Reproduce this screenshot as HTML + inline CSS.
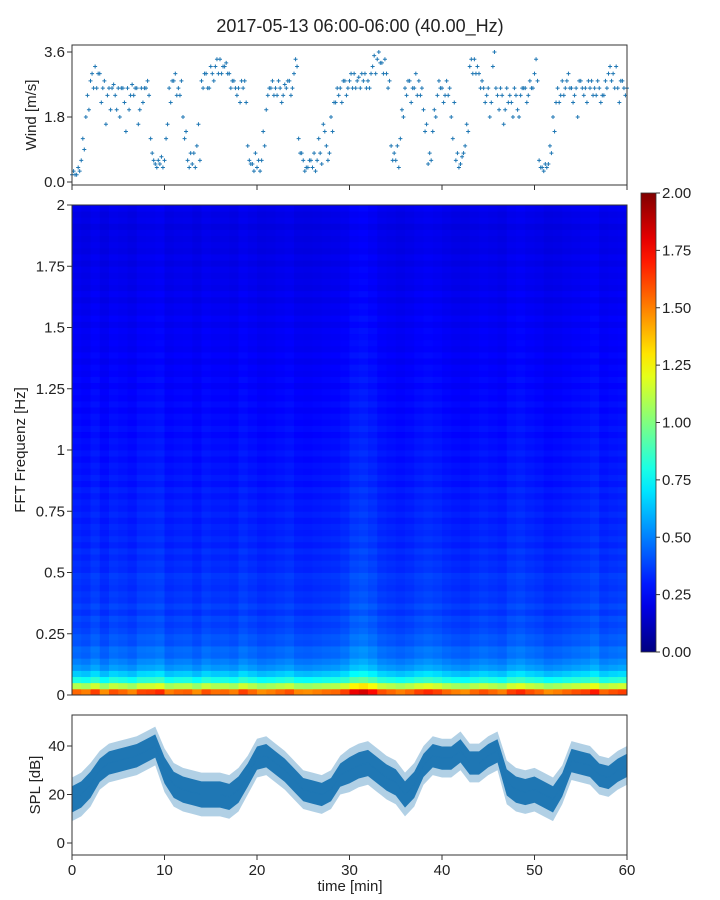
<!DOCTYPE html>
<html><head><meta charset="utf-8">
<style>
body{margin:0;background:#fff;}
svg{display:block;font-family:"Liberation Sans","DejaVu Sans",sans-serif;}
</style></head>
<body>
<svg id="chart" width="720" height="900" viewBox="0 0 720 900" xmlns="http://www.w3.org/2000/svg">
<text x="360" y="32" font-size="18" text-anchor="middle" fill="#222">2017-05-13 06:00-06:00 (40.00_Hz)</text>
<g id="wind"></g>
<g id="heat"></g>
<g id="cbar"></g>
<g id="spl"></g>
</svg>
<script>
// ---- data ----
const windTimes = Array.from({length:121},(_,i)=>i*0.5);
const windA = [0.2,0.2,0.6,1.8,2.8,3.2,3.0,2.8,2.6,2.7,2.6,2.6,2.6,2.7,2.6,2.6,2.6,1.2,0.5,0.5,0.6,2.6,2.8,2.6,1.8,0.6,0.5,1.0,2.8,3.0,3.2,3.2,3.4,3.2,3.0,2.8,2.6,2.6,1.0,0.5,0.4,0.6,2.0,2.6,2.6,2.6,2.7,2.8,3.0,1.2,0.6,0.4,0.4,0.6,0.5,1.0,1.8,2.2,2.6,2.8,2.8,3.0,2.9,2.8,2.8,3.2,3.4,3.3,3.0,1.0,0.6,1.2,2.6,2.8,2.6,2.8,2.0,0.5,1.4,2.4,2.6,2.8,1.8,0.6,0.5,1.0,3.2,3.4,3.0,2.6,2.6,3.2,2.4,2.4,2.6,2.2,2.4,2.4,2.6,2.8,3.0,0.6,0.3,0.5,1.8,2.6,2.8,2.8,2.6,2.6,2.8,2.6,2.6,2.6,2.6,2.4,3.0,3.0,2.6,2.8,2.6];
const windB = [0.3,0.4,1.2,2.4,3.0,2.6,2.2,1.6,2.0,2.4,1.8,2.2,2.0,2.4,1.6,2.2,2.8,0.8,0.4,0.7,1.2,2.2,3.0,2.4,1.2,0.4,0.8,1.6,2.6,2.6,3.0,3.4,3.0,3.3,2.6,2.6,2.2,2.8,0.6,0.3,0.6,1.4,2.4,2.8,2.4,2.2,2.6,2.4,3.4,0.8,0.3,0.6,0.8,1.2,1.6,0.6,1.4,2.6,2.2,2.4,3.0,2.6,2.6,3.0,2.6,3.5,3.6,3.0,2.6,0.6,1.0,2.0,2.4,2.2,3.0,2.4,1.4,0.8,2.0,2.8,2.2,2.4,1.2,0.8,0.7,1.6,3.4,3.0,2.6,2.2,1.8,3.6,2.0,1.6,2.2,1.8,2.0,2.6,2.2,2.6,3.4,0.4,0.5,1.0,1.4,2.2,2.4,3.0,2.2,1.8,2.6,2.2,2.8,2.4,2.2,2.8,3.2,2.6,2.2,2.6,3.0];
const windC = [0.2,0.3,0.9,2.0,2.6,3.0,2.6,2.4,2.6,2.0,2.6,1.4,2.4,2.6,2.0,2.6,2.4,0.6,0.6,0.4,1.6,2.8,2.4,2.8,1.4,0.8,0.4,0.6,3.0,2.6,2.8,3.0,3.2,3.0,2.8,2.4,2.8,2.2,0.5,0.8,0.3,1.0,2.6,2.4,2.8,2.4,2.8,2.6,3.2,0.8,0.4,0.6,0.3,0.8,1.4,0.8,2.2,2.4,2.8,2.6,2.6,2.8,3.0,2.6,3.0,3.0,3.3,3.4,2.8,0.8,0.4,1.8,2.8,2.6,2.4,2.6,1.6,0.6,1.8,2.6,2.4,2.6,2.2,0.4,0.8,1.4,3.0,3.2,2.8,2.4,2.2,2.6,2.6,2.0,2.4,2.6,1.8,2.6,2.4,2.6,2.8,0.4,0.4,0.8,2.2,2.4,2.6,2.6,2.4,2.8,2.4,2.8,2.4,2.8,2.4,2.6,2.8,3.2,2.8,2.4,2.8];
const windTicks = [0.0,1.8,3.6];
const windTickLabels = ["0.0","1.8","3.6"];

const splMinutes = Array.from({length:61},(_,i)=>i);
const splMean = [18,20,24,30,33,34,35,36,38,40,30,24,22,21,20,20,20,19,22,28,35,36,33,30,26,22,21,20,22,28,30,32,33,30,27,25,20,24,32,36,35,35,38,33,33,36,38,25,22,21,22,20,18,24,34,33,32,28,27,30,32];
const splSpread = [9,9,9,8,8,8,8,8,8,8,9,9,9,9,9,9,9,9,9,8,8,8,8,8,8,8,8,8,8,8,9,9,9,9,9,9,9,9,8,8,8,8,8,8,8,8,8,9,9,9,9,9,9,8,8,8,8,8,8,8,8];
const splTicks = [0,20,40];

const freqRows = [1.55,1.1,0.8,0.65,0.55,0.5,0.45,0.46,0.41,0.42,0.39,0.37,0.39,0.35,0.38,0.35,0.36,0.34,0.35,0.36,0.33,0.34,0.32,0.34,0.31,0.33,0.31,0.32,0.3,0.32,0.3,0.31,0.29,0.31,0.28,0.3,0.28,0.29,0.27,0.29,0.27,0.28,0.26,0.28,0.26,0.27,0.25,0.27,0.25,0.26,0.24,0.26,0.24,0.25,0.23,0.25,0.23,0.24,0.23,0.24,0.22,0.24,0.22,0.23,0.21,0.23,0.21,0.22,0.21,0.22,0.2,0.22,0.2,0.21,0.2,0.21,0.19,0.21,0.2,0.22];
const timeCols = [1.0,0.97,1.05,0.95,1.03,1.0,0.96,1.04,1.05,1.08,0.97,1.0,1.01,0.95,1.03,0.99,1.0,0.97,1.05,1.0,0.95,0.97,1.0,1.03,0.96,0.95,0.97,0.99,1.0,1.05,1.15,1.18,1.12,1.03,1.0,0.97,1.0,1.05,1.08,1.05,1.0,0.97,0.95,1.0,1.03,1.0,0.97,1.05,1.08,1.03,1.0,0.95,0.97,1.0,1.03,1.05,1.1,1.0,1.03,1.05];
const freqTicks = [0,0.25,0.5,0.75,1,1.25,1.5,1.75,2];
const freqTickLabels = ["0","0.25","0.5","0.75","1","1.25","1.5","1.75","2"];
const cbarTicks = [0,0.25,0.5,0.75,1,1.25,1.5,1.75,2];
const xTicks = [0,10,20,30,40,50,60];

// ---- helpers ----
const NS="http://www.w3.org/2000/svg";
function mk(tag,attrs,parent){const e=document.createElementNS(NS,tag);for(const k in attrs)e.setAttribute(k,attrs[k]);parent.appendChild(e);return e;}
const X0=72,X1=627;
const xs=t=>X0+(t/60)*(X1-X0);
function jet(v){v=Math.max(0,Math.min(1,v));
 const r=Math.max(0,Math.min(1,Math.min(4*v-1.5,-4*v+4.5)));
 const g=Math.max(0,Math.min(1,Math.min(4*v-0.5,-4*v+3.5)));
 const b=Math.max(0,Math.min(1,Math.min(4*v+0.5,-4*v+2.5)));
 return `rgb(${Math.round(r*255)},${Math.round(g*255)},${Math.round(b*255)})`;}
function xTickMarks(parent,y,labels){
 xTicks.forEach(t=>{
  const l=mk('line',{x1:xs(t),x2:xs(t),y1:y,y2:y+5,stroke:'#333','stroke-width':1},parent);
  
  
  if(labels){const tx=mk('text',{x:xs(t),y:y+20,'font-size':15,'text-anchor':'middle',fill:'#222'},parent);tx.textContent=t;
   
   }
 });}

// ---- wind panel ----
(function(){
 const g=document.getElementById('wind');const Y0=45,Y1=185;
 const ys=v=>182-(v/3.6)*130;
 const pts=[[windTimes,windA],[windTimes.map(t=>t+0.17),windB],[windTimes.map(t=>t+0.33),windC]];
 pts.forEach(([T,V])=>{T.forEach((t,i)=>{if(t>60||V[i]===undefined)return;
   const x=xs(t),y=ys(V[i]);
   const p=mk('path',{d:`M${x-2},${y}h4M${x},${y-2}v4`,stroke:'#1f77b4','stroke-width':1},g);
   
   
 });});
 const f=mk('rect',{x:X0,y:Y0,width:X1-X0,height:Y1-Y0,fill:'none',stroke:'#333','stroke-width':1},g);
 
 windTicks.forEach((v,i)=>{mk('line',{x1:X0-5,x2:X0,y1:ys(v),y2:ys(v),stroke:'#333'},g);
  const t=mk('text',{x:X0-7,y:ys(v)+5,'font-size':15,'text-anchor':'end',fill:'#222'},g);t.textContent=windTickLabels[i];
  });
 xTickMarks(g,Y1,false);
 const yl=mk('text',{x:36,y:115,'font-size':15,'text-anchor':'middle',fill:'#222',transform:'rotate(-90 36 115)'},g);yl.textContent='Wind [m/s]';
 
})();

// ---- spectrogram ----
(function(){
 const g=document.getElementById('heat');const Y0=205,Y1=695;
 const fs=f=>Y1-(f/2)*(Y1-Y0);
 const nR=freqRows.length,nC=timeCols.length,df=2/nR,dt=60/nC;
 for(let i=0;i<nR;i++)for(let j=0;j<nC;j++){
  const v=freqRows[i]*timeCols[j];
  const r=mk('rect',{x:xs(j*dt),y:fs((i+1)*df),width:xs((j+1)*dt)-xs(j*dt)+0.4,height:fs(i*df)-fs((i+1)*df)+0.4,fill:jet(v/2)},g);
  
  
 }
 const f=mk('rect',{x:X0,y:Y0,width:X1-X0,height:Y1-Y0,fill:'none',stroke:'#333','stroke-width':1},g);
 
 freqTicks.forEach((v,i)=>{mk('line',{x1:X0-5,x2:X0,y1:fs(v),y2:fs(v),stroke:'#333'},g);
  const t=mk('text',{x:X0-7,y:fs(v)+5,'font-size':15,'text-anchor':'end',fill:'#222'},g);t.textContent=freqTickLabels[i];
  });
 const yl=mk('text',{x:25,y:450,'font-size':15,'text-anchor':'middle',fill:'#222',transform:'rotate(-90 25 450)'},g);yl.textContent='FFT Frequenz [Hz]';
 
})();

// ---- colorbar ----
(function(){
 const g=document.getElementById('cbar');const x=641,w=15,Y0=193,Y1=652;
 const defs=mk('defs',{},g);const lg=mk('linearGradient',{id:'jetg',x1:0,y1:1,x2:0,y2:0},defs);
 for(let k=0;k<=20;k++)mk('stop',{offset:k/20,'stop-color':jet(k/20)},lg);
 const r=mk('rect',{x:x,y:Y0,width:w,height:Y1-Y0,fill:'url(#jetg)',stroke:'#333','stroke-width':0.8},g);
 
 const cs=v=>Y1-(v/2)*(Y1-Y0);
 cbarTicks.forEach(v=>{mk('line',{x1:x+w,x2:x+w+4,y1:cs(v),y2:cs(v),stroke:'#333'},g);
  const t=mk('text',{x:x+w+6,y:cs(v)+5,'font-size':15,fill:'#222'},g);t.textContent=v.toFixed(2);
  });
})();

// ---- SPL ----
(function(){
 const g=document.getElementById('spl');const Y0=715,Y1=855;
 const ys=v=>843-(v/40)*97;
 let up='',lo='',up2='',lo2='',mid='';
 splMinutes.forEach((t,i)=>{up+=(i?'L':'M')+xs(t)+','+ys(splMean[i]+splSpread[i]);up2+=(i?'L':'M')+xs(t)+','+ys(splMean[i]+splSpread[i]*0.6);mid+=(i?'L':'M')+xs(t)+','+ys(splMean[i]);});
 for(let i=splMinutes.length-1;i>=0;i--){lo+='L'+xs(splMinutes[i])+','+ys(splMean[i]-splSpread[i]);lo2+='L'+xs(splMinutes[i])+','+ys(splMean[i]-splSpread[i]*0.6);}
 const outer=mk('path',{d:up+lo+'Z',fill:'#1f77b4','fill-opacity':0.35,stroke:'none'},g);
 
 const band=mk('path',{d:up2+lo2+'Z',fill:'#1f77b4',stroke:'none'},g);
 
 const ln=mk('path',{d:mid,fill:'none',stroke:'#1f77b4','stroke-width':1},g);
 
 const f=mk('rect',{x:X0,y:Y0,width:X1-X0,height:Y1-Y0,fill:'none',stroke:'#333','stroke-width':1},g);
 
 splTicks.forEach(v=>{mk('line',{x1:X0-5,x2:X0,y1:ys(v),y2:ys(v),stroke:'#333'},g);
  const t=mk('text',{x:X0-7,y:ys(v)+5,'font-size':15,'text-anchor':'end',fill:'#222'},g);t.textContent=v;
  });
 xTickMarks(g,Y1,true);
 const yl=mk('text',{x:40,y:785,'font-size':15,'text-anchor':'middle',fill:'#222',transform:'rotate(-90 40 785)'},g);yl.textContent='SPL [dB]';
 
 const xl=mk('text',{x:350,y:891,'font-size':15,'text-anchor':'middle',fill:'#222'},g);xl.textContent='time [min]';
 
})();
</script>
</body></html>
